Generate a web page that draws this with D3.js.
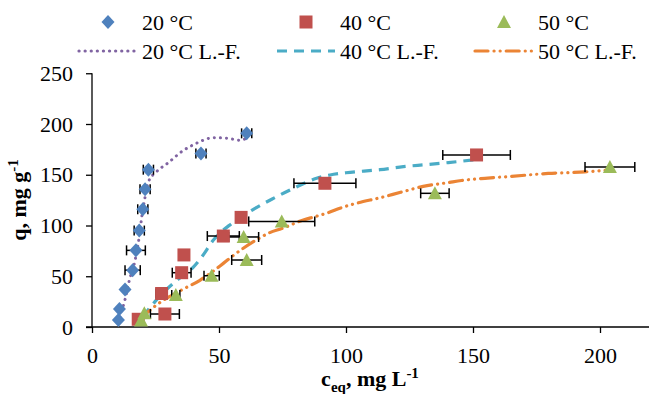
<!DOCTYPE html>
<html>
<head>
<meta charset="utf-8">
<script src="https://d3js.org/d3.v7.min.js"></script>
<style>
  body { margin: 0; background: #fff; }
</style>
</head>
<body>
<div id="chart"></div>
<script>
// measured points: [c_eq, q, c_eq error]
var data20 = [[10.4, 7, 0], [10.8, 17.7, 0], [13, 37, 0], [16, 56, 3], [17.3, 75.5, 3.7],
  [18.6, 95, 2], [20, 116, 2], [20.9, 135.6, 2], [22.2, 155, 2], [42.9, 171, 2], [60.9, 190.8, 2]];
var data40 = [[18.2, 7.6, 0], [28.7, 12.8, 5.7], [27.4, 33, 2.2], [35.3, 53.5, 3.7], [36.2, 71, 0],
  [51.7, 89.6, 6.3], [58.7, 108, 0], [91.7, 141.6, 12.2], [151.4, 169.5, 13.3]];
var data50 = [[19.3, 6.5, 0], [20.6, 13.5, 0], [33, 31.5, 1.6], [47.1, 50.5, 3], [60.9, 66, 5.9],
  [59.7, 88.7, 5.9], [74.7, 104, 13], [135, 131.7, 5.6], [203.9, 157.6, 9.8]];

// L.-F. fit curves
var fit20 = [[10.4, 4], [11, 10], [13, 27], [14.7, 46], [17, 66], [18.6, 89], [19.6, 108.6], [20.9, 128],
  [22.2, 143], [25.4, 153], [29.6, 161], [36, 174], [40.3, 180], [42.8, 183], [47.8, 186.5], [53, 186],
  [55.6, 185], [58.3, 184], [60.9, 186]];
var fit40 = [[20, 10], [24.8, 25], [28.5, 35], [32, 43], [36, 51], [39.9, 59], [43.2, 69], [47.8, 85.7],
  [55, 102], [62.9, 115], [71.4, 126.7], [79.3, 136.6], [88.4, 146.5], [93.7, 149.8], [100, 152],
  [113.4, 155], [122.6, 158], [131.7, 160], [140.3, 162], [151.4, 165]];
var fit50 = [[19, 8], [25.4, 21.7], [35.3, 36.5], [42.5, 46], [51.7, 62.7], [55.9, 71], [65.5, 87], [70, 93],
  [74.7, 97], [83.2, 105.4], [87.8, 108.7], [93, 112.6], [97.6, 117], [116, 129], [121.5, 132.7],
  [130.4, 138.5], [140.3, 142.3], [145.5, 144.3], [154.7, 146.5], [164.6, 148.3], [179.6, 151.3],
  [194, 152.8], [204, 154.7]];

var xTicks = [0, 50, 100, 150, 200];
var yTicks = [0, 50, 100, 150, 200, 250];
var seriesNames = ["20 °C", "40 °C", "50 °C"];
var fitNames = ["20 °C L.-F.", "40 °C L.-F.", "50 °C L.-F."];

var width = 649, height = 394;
var fontSize = 22;
var serif = "'Liberation Serif', 'Times New Roman', Times, Tinos, serif";

var svg = d3.select("#chart")
  .append("svg")
    .attr("width", width)
    .attr("height", height)
    .attr("font-family", serif)
    .style("font-family", serif);

var x = d3.scaleLinear().domain([0, 220]).range([92, 92 + 220 * 2.54]);
var y = d3.scaleLinear().domain([0, 250]).range([327, 73.25]);

var colors = ["#4F81BD", "#C0504D", "#9BBB59"];
var fitColors = ["#8064A2", "#4BACC6", "#EB8435"];
var fitDash = ["0.1,6", "10,7", "13,6,0.1,6,0.1,6"];
var fitCap = ["round", "butt", "round"];

// axes
var yAxis = svg.append("g")
  .attr("transform", "translate(" + x(0) + ",0)")
  .call(d3.axisLeft(y).tickValues(yTicks).tickSize(6).tickPadding(13));
var xAxis = svg.append("g")
  .attr("transform", "translate(0," + y(0) + ")")
  .call(d3.axisBottom(x).tickValues(xTicks).tickSize(6).tickPadding(14));

[xAxis, yAxis].forEach(function(a) {
  a.attr("font-family", null);
  a.select(".domain").remove();
  a.selectAll("line").attr("stroke", "#000").attr("stroke-width", 1.3);
  a.selectAll("text")
    .style("font-family", serif)
    .style("font-size", fontSize + "px")
    .attr("fill", "#000");
});
xAxis.selectAll("text").attr("dy", "0.71em");

svg.append("line")
  .attr("x1", x(0)).attr("x2", x(0))
  .attr("y1", y(0)).attr("y2", y(250))
  .attr("stroke", "#000").attr("stroke-width", 1.3);
svg.append("line")
  .attr("x1", x(0) - 6).attr("x2", width)
  .attr("y1", y(0)).attr("y2", y(0))
  .attr("stroke", "#000").attr("stroke-width", 1.3);

// fit lines
var line = d3.line()
  .x(function(d) { return x(d[0]); })
  .y(function(d) { return y(d[1]); })
  .curve(d3.curveMonotoneX);

[fit20, fit40, fit50].forEach(function(f, i) {
  svg.append("path")
    .datum(f)
    .attr("d", line)
    .attr("fill", "none")
    .attr("stroke", fitColors[i])
    .attr("stroke-width", i == 0 ? 3 : 3.2)
    .attr("stroke-linecap", fitCap[i])
    .attr("stroke-dasharray", fitDash[i]);
});

// markers
function drawMarker(g, kind, cx, cy, color) {
  if (kind == 0) {
    g.append("path")
      .attr("d", "M" + cx + "," + (cy - 7) + "L" + (cx + 6.5) + "," + cy + "L" + cx + "," + (cy + 7) + "L" + (cx - 6.5) + "," + cy + "Z")
      .attr("fill", color);
  } else if (kind == 1) {
    g.append("rect")
      .attr("x", cx - 6.5).attr("y", cy - 6.5)
      .attr("width", 13).attr("height", 13)
      .attr("fill", color);
  } else {
    g.append("path")
      .attr("d", "M" + cx + "," + (cy - 7) + "L" + (cx + 7) + "," + (cy + 6) + "L" + (cx - 7) + "," + (cy + 6) + "Z")
      .attr("fill", color);
  }
}

var allData = [data20, data40, data50];

// error bars
var errG = svg.append("g").attr("stroke", "#000").attr("stroke-width", 1.5);
allData.forEach(function(ds) {
  ds.filter(function(d) { return d[2] > 0; }).forEach(function(d) {
    var x1 = x(d[0] - d[2]), x2 = x(d[0] + d[2]), yy = y(d[1]);
    errG.append("line").attr("x1", x1).attr("x2", x2).attr("y1", yy).attr("y2", yy);
    errG.append("line").attr("x1", x1).attr("x2", x1).attr("y1", yy - 5).attr("y2", yy + 5);
    errG.append("line").attr("x1", x2).attr("x2", x2).attr("y1", yy - 5).attr("y2", yy + 5);
  });
});

var markG = svg.append("g");
allData.forEach(function(ds, i) {
  ds.forEach(function(d) {
    drawMarker(markG, i, x(d[0]), y(d[1]), colors[i]);
  });
});

// legend
var legX = [79, 277, 475];
var leg = svg.append("g");
seriesNames.forEach(function(n, i) {
  drawMarker(leg, i, legX[i] + 29, 22, colors[i]);
  leg.append("text")
    .attr("x", legX[i] + 63).attr("y", 22)
    .attr("dy", "0.35em")
    .style("font-size", fontSize + "px")
    .text(n);
});
fitNames.forEach(function(n, i) {
  leg.append("line")
    .attr("x1", legX[i]).attr("x2", legX[i] + 58)
    .attr("y1", 51).attr("y2", 51)
    .attr("stroke", fitColors[i])
    .attr("stroke-width", 3.2)
    .attr("stroke-linecap", fitCap[i])
    .attr("stroke-dasharray", fitDash[i]);
  leg.append("text")
    .attr("x", legX[i] + 63).attr("y", 51)
    .attr("dy", "0.35em")
    .style("font-size", fontSize + "px")
    .text(n);
});

// axis titles
var xt = svg.append("text")
  .attr("x", 370).attr("y", 386)
  .attr("text-anchor", "middle")
  .style("font-size", fontSize + "px")
  .style("font-weight", "bold");
xt.append("tspan").text("c");
xt.append("tspan").attr("dy", 6).style("font-size", "15px").text("eq");
xt.append("tspan").attr("dy", -6).text(", mg L");
xt.append("tspan").attr("dy", -8).style("font-size", "15px").text("-1");

var yt = svg.append("text")
  .attr("transform", "translate(26,200) rotate(-90)")
  .attr("text-anchor", "middle")
  .style("font-size", fontSize + "px")
  .style("font-weight", "bold");
yt.append("tspan").text("q, mg g");
yt.append("tspan").attr("dy", -8).style("font-size", "15px").text("-1");
</script>
</body>
</html>
